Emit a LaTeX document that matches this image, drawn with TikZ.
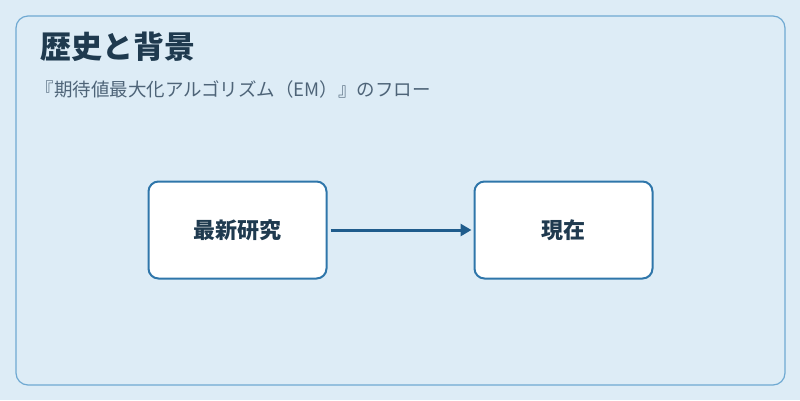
\documentclass[tikz,border=0pt]{standalone}
\usepackage{fontspec}
\setmainfont{Noto Sans CJK JP}
\usetikzlibrary{arrows.meta}
\definecolor{bg}{HTML}{DDECF6}
\definecolor{frame}{HTML}{6FA9D2}
\definecolor{titlec}{HTML}{1F3A4F}
\definecolor{subc}{HTML}{4E6478}
\definecolor{boxb}{HTML}{2F76AA}
\definecolor{arr}{HTML}{1F5C8C}
\begin{document}
\begin{tikzpicture}[x=1pt,y=-1pt,
  box/.style={draw=boxb,line width=2pt,fill=white,rounded corners=10pt,minimum width=178pt,minimum height=97pt,font=\fontsize{22}{25}\selectfont\bfseries,text=titlec}]
\useasboundingbox[fill=bg] (0,0) rectangle (800,400);
\draw[frame,line width=1.2pt,rounded corners=12pt] (16,16) rectangle (785,385);
\node[anchor=west,text=titlec,font=\fontsize{31}{34}\selectfont\bfseries] (t) at (37,47) {歴史と背景};
\node[anchor=west,text=subc,font=\fontsize{18.5}{21}\selectfont] (s) at (32,89) {『期待値最大化アルゴリズム（EM）』のフロー};
\node[box] (a) at (237.5,230) {最新研究};
\node[box] (b) at (563.5,230) {現在};
\draw[arr,line width=3pt,-{Triangle[length=11pt,width=12pt]}] (a.east) ++(3,0) -- ([xshift=-2pt]b.west);
\end{tikzpicture}
\end{document}
